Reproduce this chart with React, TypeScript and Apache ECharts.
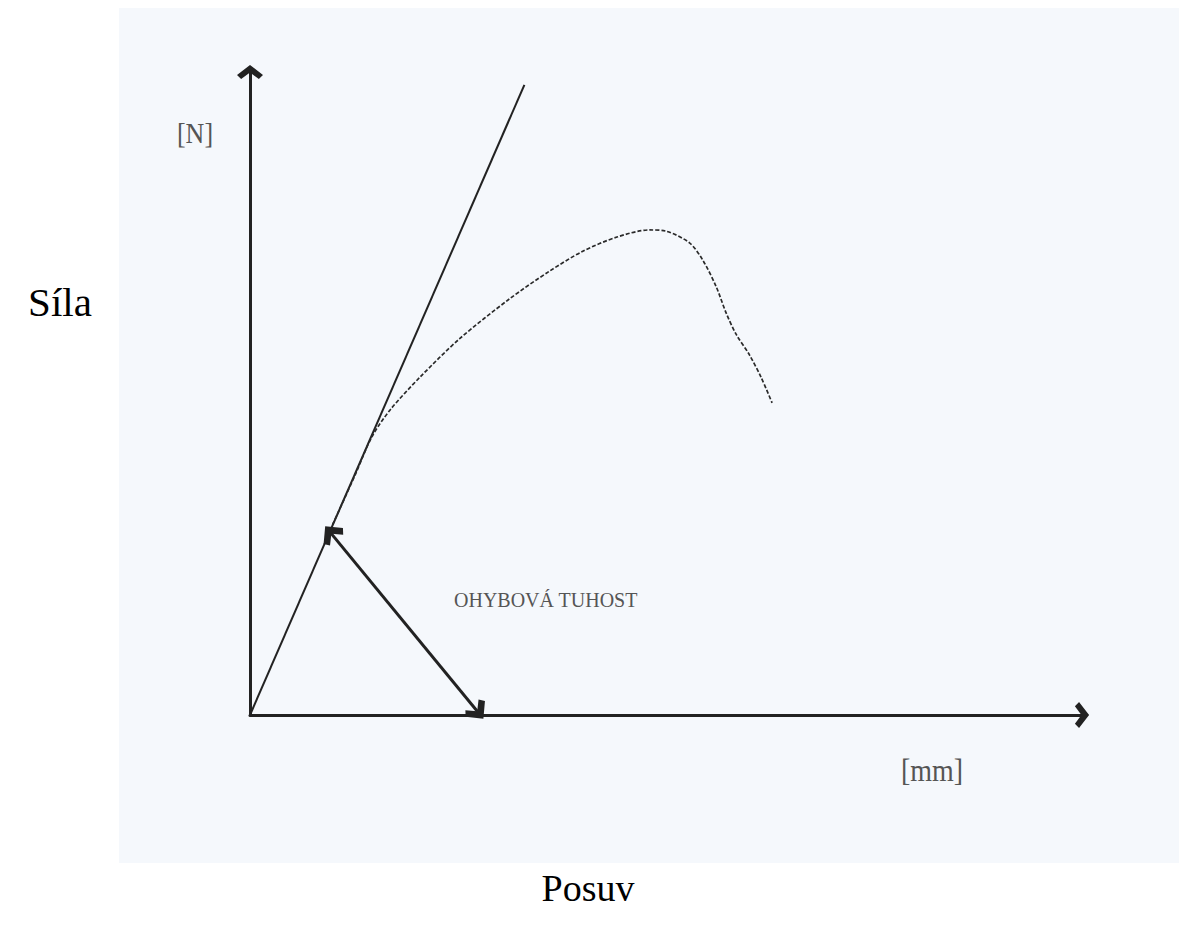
import React, { useEffect, useRef } from "react";
import * as echarts from "echarts";

// Tangent (initial stiffness) line: [displacement, force]
const tangentLine: number[][] = [
  [0, 0],
  [32.9, 97.7],
];

// Measured force-displacement curve (dashed)
const curvePoints: number[][] = [
  [9.9, 29.5],
  [12.6, 37.2],
  [14.6, 43.1],
  [16.8, 47.3],
  [20.4, 52.4],
  [25.1, 58.3],
  [31.1, 64.5],
  [35.9, 68.8],
  [39.9, 71.9],
  [44.0, 74.1],
  [47.9, 75.2],
  [49.9, 75.0],
  [52.7, 73.2],
  [54.3, 70.5],
  [55.9, 66.4],
  [57.1, 62.3],
  [58.3, 59.0],
  [59.9, 55.8],
  [61.3, 52.3],
  [62.6, 48.4],
];

// Double arrow marking the bending stiffness
const stiffnessArrow: number[][] = [
  [9.7, 28.2],
  [27.3, 0.5],
];

const yUnit = "[N]";
const xUnit = "[mm]";
const yName = "Síla";
const xName = "Posuv";
const arrowLabel = "OHYBOVÁ TUHOST";

const chevron = "path://M0 0 L11 8.5 L7.5 12 L0 6.5 L-7.5 12 L-11 8.5 Z";

export default function App() {
  const ref = useRef<HTMLDivElement>(null);
  useEffect(() => {
    if (!ref.current) return;
    const chart = echarts.init(ref.current, null, { renderer: "svg" });
    const serif = "'Liberation Serif', 'DejaVu Serif', serif";
    const axisCommon = {
      type: "value" as const,
      min: 0,
      max: 100,
      axisLine: {
        show: true,
        symbol: ["none", chevron],
        symbolSize: [26, 19],
        symbolOffset: [0, -2],
        lineStyle: { color: "#222", width: 3 },
      },
      axisTick: { show: false },
      axisLabel: { show: false },
      splitLine: { show: false },
    };
    chart.setOption({
      animation: false,
      backgroundColor: "#ffffff",
      grid: { left: 250, right: 95, top: 70, bottom: 221 },
      xAxis: { ...axisCommon },
      yAxis: { ...axisCommon },
      graphic: [
        {
          type: "rect",
          z: -100,
          silent: true,
          shape: { x: 119, y: 8, width: 1060, height: 855 },
          style: { fill: "#f5f8fc" },
        },
        {
          type: "text",
          x: 195,
          y: 133,
          scaleY: 1.15,
          style: {
            text: yUnit,
            font: `26px ${serif}`,
            fill: "#555",
            textAlign: "center",
            textVerticalAlign: "middle",
          },
        },
        {
          type: "text",
          x: 932,
          y: 770,
          scaleY: 1.15,
          style: {
            text: xUnit,
            font: `28px ${serif}`,
            fill: "#555",
            textAlign: "center",
            textVerticalAlign: "middle",
          },
        },
        {
          type: "text",
          x: 60,
          y: 302,
          style: {
            text: yName,
            font: `41px ${serif}`,
            fill: "#000",
            textAlign: "center",
            textVerticalAlign: "middle",
          },
        },
        {
          type: "text",
          x: 588,
          y: 888,
          style: {
            text: xName,
            font: `38px ${serif}`,
            fill: "#000",
            textAlign: "center",
            textVerticalAlign: "middle",
          },
        },
        {
          type: "text",
          x: 454,
          y: 600,
          scaleY: 1.1,
          style: {
            text: arrowLabel,
            font: `20px ${serif}`,
            fill: "#555",
            textAlign: "left",
            textVerticalAlign: "middle",
          },
        },
      ],
      series: [
        {
          type: "line",
          data: tangentLine,
          symbol: "none",
          silent: true,
          lineStyle: { color: "#222", width: 2 },
          markLine: {
            silent: true,
            symbol: [chevron, chevron],
            symbolSize: [25, 18],
            label: { show: false },
            lineStyle: { color: "#222", width: 3, type: "solid" },
            data: [
              [
                { coord: stiffnessArrow[0] },
                { coord: stiffnessArrow[1] },
              ],
            ],
          },
        },
        {
          type: "line",
          data: curvePoints,
          symbol: "none",
          smooth: 0.3,
          silent: true,
          lineStyle: { color: "#2a2a2a", width: 1.7, type: [4, 2] },
        },
      ],
    });
    return () => chart.dispose();
  }, []);
  return (
    <div
      ref={ref}
      style={{ position: "fixed", left: 0, top: 0, width: 1179, height: 936 }}
    />
  );
}
